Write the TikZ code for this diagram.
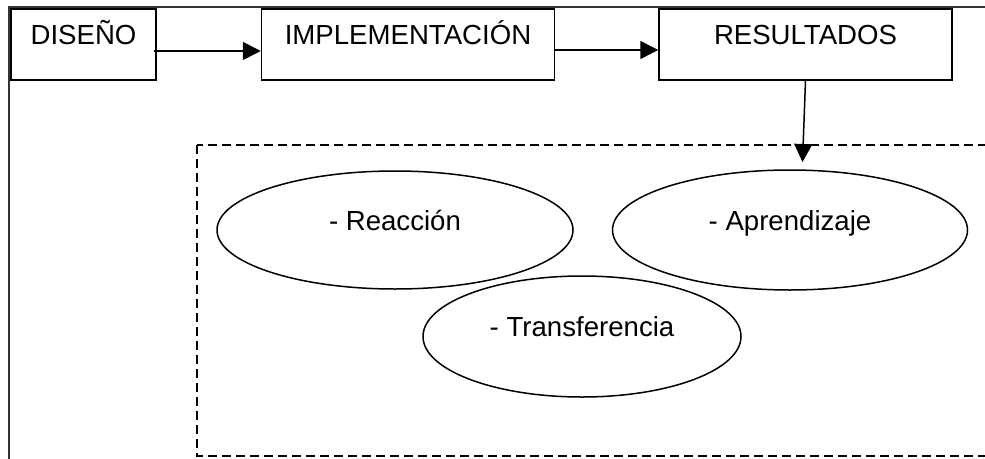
\documentclass[tikz,border=0pt]{standalone}
\usepackage{fontspec}
\setmainfont{Liberation Sans}
\usetikzlibrary{positioning,shapes.geometric,arrows.meta}

\tikzset{
  caja/.style={draw, line width=1.5pt, minimum height=71pt, inner sep=0pt, text height=20pt, text depth=20pt},
  elipse/.style={draw, ellipse, line width=1.5pt, inner sep=0pt, text height=20pt, text depth=20pt},
  flecha/.style={line width=1.5pt, -{Triangle[length=18pt,width=18pt]}}
}

\begin{document}
\begin{tikzpicture}[x=1pt,y=1pt,font=\fontsize{27.6}{33}\selectfont]
\useasboundingbox (0,0) rectangle (985,-458);
% marco exterior y zona de resultados
\draw[line width=2.2pt, black!80] (9,-460) -- (9,-7) -- (990,-7);
\draw[dash pattern=on 9pt off 5pt, line width=1.8pt] (197,-145) rectangle (995,-456);
% cajas
\node[caja, minimum width=145pt] (dis) at (83.5,-44.5) {DISEÑO};
\node[caja, minimum width=293pt, right=104pt of dis] (impl) {IMPLEMENTACIÓN};
\node[caja, minimum width=293pt, right=103pt of impl] (res) {RESULTADOS};
% elipses
\node[elipse, minimum width=356pt, minimum height=118pt] (reac) at (395,-230) {- Reacción};
\node[elipse, minimum width=355pt, minimum height=120pt] (apren) at (790,-230) {- Aprendizaje};
\node[elipse, minimum width=318pt, minimum height=121pt] (trans) at (582,-336.5) {- Transferencia};
% flechas
\coordinate (punta) at (802.5,-162);
\draw[flecha] ([xshift=-3pt,yshift=-6.5pt]dis.east) -- ([yshift=-6.5pt]impl.west);
\draw[flecha] ([yshift=-5.5pt]impl.east) -- ([yshift=-5.5pt]res.west);
\draw[flecha] (res.south) -- (punta);
\end{tikzpicture}
\end{document}
